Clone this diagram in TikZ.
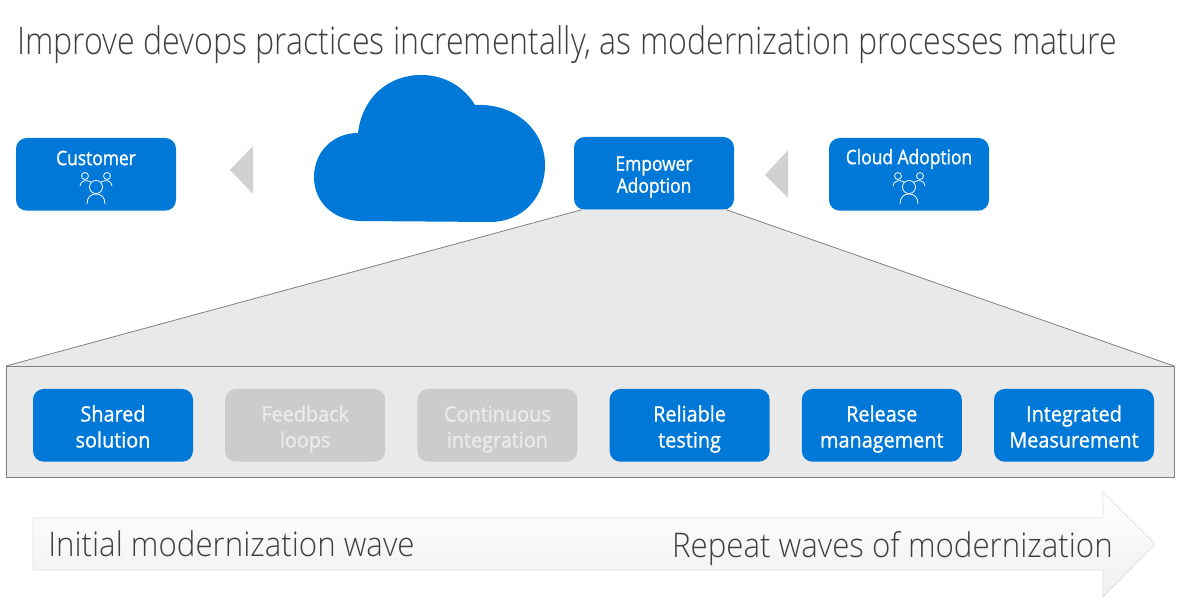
\documentclass[tikz,border=0pt]{standalone}
\usepackage{fontspec}
\newfontfamily\lightfont[FakeStretch=.845]{Open Sans Light}
\newfontfamily\wavefont[FakeStretch=.92]{Open Sans Light}
\newfontfamily\labelfont[FakeStretch=.93,FakeBold=1]{Open Sans}
\newfontfamily\smalllabelfont[FakeStretch=.87,FakeBold=1]{Open Sans}
\usetikzlibrary{arrows.meta,positioning,calc}
\definecolor{azure1}{RGB}{0,120,215}
\definecolor{mutedgray}{RGB}{204,204,204}
\definecolor{bandgray}{RGB}{233,233,233}
\definecolor{titleink}{RGB}{64,64,64}
\newcommand{\lowered}[1]{\raisebox{-3pt}[\height][\depth]{\strut#1}}
\newcommand{\twolines}[2]{\lowered{#1}\\\lowered{#2}}
\tikzset{
  bluebox/.style={fill=azure1,rounded corners=8pt,minimum width=120pt,minimum height=54.5pt,inner sep=0pt,outer sep=0pt,align=center,text=white,font=\labelfont\fontsize{16}{19.5}\selectfont},
  mutedbox/.style={bluebox,fill=mutedgray,text=white!92!black},
  toplabel/.style={inner sep=0pt,text=white,font=\smalllabelfont\fontsize{15}{16.5}\selectfont},
  wavetext/.style={inner sep=0pt,text=titleink,font=\wavefont\fontsize{25.5}{30}\selectfont},
  pointer/.style={fill=black!18,draw=none},
  people/.pic={
    \draw[white,line width=.6pt] (0,0) circle (4.9pt);
    \draw[white,line width=.6pt] (-11,-11) circle (2.6pt) (11,-11) circle (2.6pt);
    \draw[white,line width=.6pt] (-16,-1) .. controls (-16,-6) and (-10,-8) .. (-5,-5);
    \draw[white,line width=.6pt] (16,-1) .. controls (16,-6) and (10,-8) .. (5,-5);
    \draw[white,line width=.6pt] (-9,17) .. controls (-9,10) and (-5,7) .. (0,7) .. controls (5,7) and (9,10) .. (9,17);
  }
}
\begin{document}
\begin{tikzpicture}[x=.75pt,y=-.75pt,node distance=0pt and 24.15pt]
\useasboundingbox (0,0) rectangle (1183,605);
% top row
\node[bluebox,anchor=north west] (customer) at (16,138) {};
\node[bluebox,anchor=north west,font=\smalllabelfont\fontsize{15}{16.5}\selectfont] (empower) at (574,137) {\twolines{Empower}{Adoption}};
\node[bluebox,anchor=north west] (cloudadopt) at (829,138) {};
\node[toplabel] (customerlabel) at (96,158) {Customer};
\node[toplabel] (cloudlabel) at (909,159) {Cloud Adoption};
\pic at (96,187) {people};
\pic at (909,187) {people};
\fill[pointer] (230,170)--(253,146)--(253,194)--cycle;
\fill[pointer] (765,175)--(788,150)--(788,198)--cycle;
% cloud
\fill[azure1] (358,133) .. controls (362,98) and (388,75) .. (421,75)
  .. controls (445,75) and (464,87) .. (475,105)
  .. controls (515,103) and (545,130) .. (545,165)
  .. controls (545,198) and (522,222) .. (490,222)
  -- (360,221) .. controls (333,220) and (314,202) .. (314,177)
  .. controls (314,152) and (333,133) .. (358,133) -- cycle;
% zoom band
\node[draw=black!50,fill=bandgray,line width=.6pt,minimum width=876pt,minimum height=83.4pt,inner sep=0pt,outer sep=0pt,anchor=north west] (band) at (6,366) {};
\coordinate (zoomleft) at ($(empower.south west)+(8,0)$);
\coordinate (zoomright) at ($(empower.south east)+(-8,0)$);
\fill[bandgray] (band.north west)--(zoomleft)--(zoomright)--(band.north east)--cycle;
\draw[black!50,line width=.6pt] (band.north west)--(zoomleft);
\draw[black!50,line width=.6pt] (band.north east)--(zoomright);
\node[bluebox,anchor=north west] (shared) at (33,389) {\twolines{Shared}{solution}};
\node[mutedbox,right=of shared] (feedback) {\twolines{Feedback}{loops}};
\node[mutedbox,right=of feedback] (integration) {\twolines{Continuous}{integration}};
\node[bluebox,right=of integration] (testing) {\twolines{Reliable}{testing}};
\node[bluebox,right=of testing] (release) {\twolines{Release}{management}};
\node[bluebox,right=of release] (measure) {\twolines{Integrated}{Measurement}};
% wave arrow
\path[draw=black!12,top color=white,bottom color=black!6,line width=.6pt] (33,518)--(1103,518)--(1103,492)--(1155,544)--(1103,597)--(1103,570)--(33,570)--cycle;
\node[wavetext,anchor=base west] (initial) at (48,557) {Initial modernization wave};
\node[wavetext,anchor=base east] (repeat) at (1113,558) {Repeat waves of modernization};
\node[inner sep=0pt,anchor=base west,text=titleink,font=\lightfont\fontsize{28.5}{32}\selectfont] (heading) at (17,55) {Improve devops practices incrementally, as modernization processes mature};
\end{tikzpicture}
\end{document}
